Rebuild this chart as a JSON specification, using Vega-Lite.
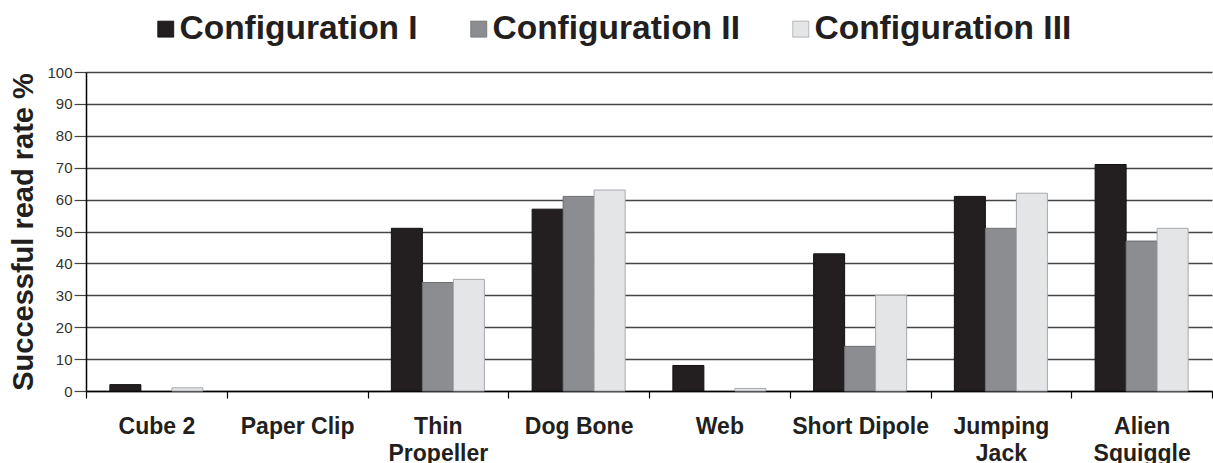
{
  "$schema": "https://vega.github.io/schema/vega-lite/v6.json",
  "width": 1126,
  "height": 319,
  "autosize": {"type": "none"},
  "padding": {"left": 86, "top": 72, "right": 1, "bottom": 72},
  "background": "white",
  "config": {"font": "Liberation Sans", "view": {"stroke": null}},
  "data": {
    "values": [
      {"object": "Cube 2", "config": "Configuration I", "rate": 2},
      {"object": "Cube 2", "config": "Configuration II", "rate": 0},
      {"object": "Cube 2", "config": "Configuration III", "rate": 1},
      {"object": "Paper Clip", "config": "Configuration I", "rate": 0},
      {"object": "Paper Clip", "config": "Configuration II", "rate": 0},
      {"object": "Paper Clip", "config": "Configuration III", "rate": 0},
      {"object": "Thin Propeller", "config": "Configuration I", "rate": 51},
      {"object": "Thin Propeller", "config": "Configuration II", "rate": 34},
      {"object": "Thin Propeller", "config": "Configuration III", "rate": 35},
      {"object": "Dog Bone", "config": "Configuration I", "rate": 57},
      {"object": "Dog Bone", "config": "Configuration II", "rate": 61},
      {"object": "Dog Bone", "config": "Configuration III", "rate": 63},
      {"object": "Web", "config": "Configuration I", "rate": 8},
      {"object": "Web", "config": "Configuration II", "rate": 0},
      {"object": "Web", "config": "Configuration III", "rate": 0.8},
      {"object": "Short Dipole", "config": "Configuration I", "rate": 43},
      {"object": "Short Dipole", "config": "Configuration II", "rate": 14},
      {"object": "Short Dipole", "config": "Configuration III", "rate": 30},
      {"object": "Jumping Jack", "config": "Configuration I", "rate": 61},
      {"object": "Jumping Jack", "config": "Configuration II", "rate": 51},
      {"object": "Jumping Jack", "config": "Configuration III", "rate": 62},
      {"object": "Alien Squiggle", "config": "Configuration I", "rate": 71},
      {"object": "Alien Squiggle", "config": "Configuration II", "rate": 47},
      {"object": "Alien Squiggle", "config": "Configuration III", "rate": 51}
    ]
  },
  "transform": [{"filter": "datum.rate > 0"}],
  "mark": {"type": "bar", "strokeWidth": 1},
  "encoding": {
    "x": {
      "field": "object",
      "type": "nominal",
      "sort": ["Cube 2", "Paper Clip", "Thin Propeller", "Dog Bone", "Web", "Short Dipole", "Jumping Jack", "Alien Squiggle"],
      "scale": {"domain": ["Cube 2", "Paper Clip", "Thin Propeller", "Dog Bone", "Web", "Short Dipole", "Jumping Jack", "Alien Squiggle"], "paddingInner": 0, "paddingOuter": 0},
      "axis": {
        "title": null,
        "labelAngle": 0,
        "labelExpr": "datum.label == 'Thin Propeller' ? ['Thin', 'Propeller'] : datum.label == 'Jumping Jack' ? ['Jumping', 'Jack'] : datum.label == 'Alien Squiggle' ? ['Alien', 'Squiggle'] : datum.label",
        "labelFontSize": 23,
        "labelFontWeight": "bold",
        "labelColor": "#231f20",
        "labelPadding": 17,
        "labelLineHeight": 27,
        "labelLimit": 300,
        "tickBand": "extent",
        "tickSize": 7,
        "tickColor": "#000000",
        "tickWidth": 1.2,
        "domainColor": "#000000",
        "domainWidth": 1.5,
        "grid": false
      }
    },
    "xOffset": {
      "field": "config",
      "type": "nominal",
      "sort": ["Configuration I", "Configuration II", "Configuration III"],
      "scale": {"domain": ["Configuration I", "Configuration II", "Configuration III"], "paddingInner": 0, "paddingOuter": 0.77}
    },
    "y": {
      "field": "rate",
      "type": "quantitative",
      "scale": {"domain": [0, 100]},
      "axis": {
        "title": "Successful read rate %",
        "titleFontSize": 29,
        "titleFontWeight": "bold",
        "titleColor": "#231f20",
        "titlePadding": 8,
        "values": [0, 10, 20, 30, 40, 50, 60, 70, 80, 90, 100],
        "grid": true,
        "gridColor": "#444444",
        "gridWidth": 1.4,
        "domainColor": "#000000",
        "domainWidth": 1.5,
        "tickColor": "#444444",
        "tickSize": 12,
        "tickWidth": 1.2,
        "labelPadding": 2,
        "labelFontSize": 15,
        "labelColor": "#333333"
      }
    },
    "color": {
      "field": "config",
      "type": "nominal",
      "scale": {"domain": ["Configuration I", "Configuration II", "Configuration III"], "range": ["#231f20", "#8c8d90", "#e4e5e7"]},
      "legend": {
        "title": null,
        "orient": "none",
        "direction": "horizontal",
        "legendX": 63,
        "legendY": -60,
        "symbolType": "square",
        "symbolSize": 256,
        "symbolStrokeColor": "#8a8a8a",
        "symbolStrokeWidth": 0.8,
        "labelFontSize": 33.5,
        "labelFontWeight": "bold",
        "labelColor": "#231f20",
        "labelLimit": 400,
        "labelOffset": -3,
        "columnPadding": 44
      }
    },
    "stroke": {
      "field": "config",
      "type": "nominal",
      "scale": {"domain": ["Configuration I", "Configuration II", "Configuration III"], "range": ["#111111", "#6d6e71", "#a7a9ac"]},
      "legend": null
    }
  }
}
